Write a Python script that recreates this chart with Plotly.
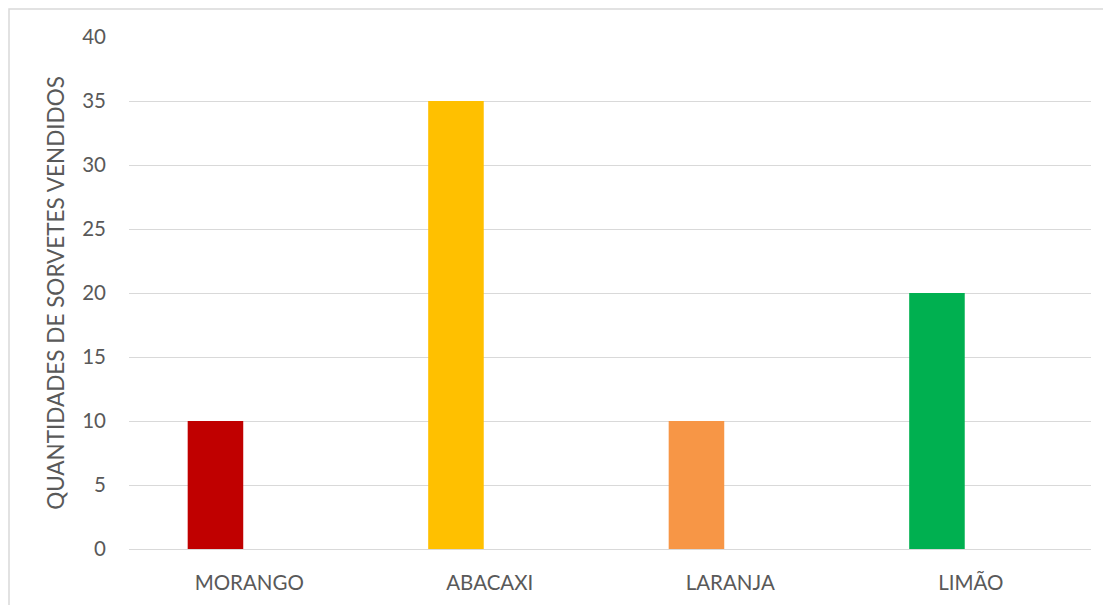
import plotly.graph_objects as go

categories = ["MORANGO", "ABACAXI", "LARANJA", "LIMÃO"]
values = [10, 35, 10, 20]
colors = ["#C00000", "#FFC000", "#F79646", "#00B050"]
y_title = "QUANTIDADES DE SORVETES VENDIDOS"
y_ticks = [0, 5, 10, 15, 20, 25, 30, 35, 40]

FONT = "Lato, 'Open Sans', sans-serif"
TXT = "#595959"

fig = go.Figure()
fig.add_trace(go.Bar(
    x=categories, y=values,
    marker=dict(color=colors, line=dict(width=0)),
    width=0.231, offset=-0.256,
    showlegend=False, hoverinfo="x+y",
))

fig.update_layout(
    width=1103, height=597,
    margin=dict(l=121, r=20, t=29, b=56),
    paper_bgcolor="white", plot_bgcolor="white",
    font=dict(family=FONT, color=TXT, size=20),
    xaxis=dict(
        type="category", range=[-0.5, 3.5],
        showgrid=False, showline=False, zeroline=False,
        tickfont=dict(size=20.5, color=TXT, family=FONT),
        ticks="", ticklabelstandoff=19,
    ),
    yaxis=dict(
        range=[0, 40], tickvals=y_ticks,
        showgrid=True, gridcolor="#D9D9D9", gridwidth=1.3,
        zeroline=True, zerolinecolor="#D9D9D9", zerolinewidth=1.3,
        showline=False, ticks="",
        tickfont=dict(size=20.5, color=TXT, family=FONT),
        ticklabelstandoff=22,
        title=dict(text=y_title, font=dict(size=22.5, color=TXT, family=FONT), standoff=11),
    ),
    shapes=[dict(
        type="rect", xref="paper", yref="paper",
        x0=(1 - 121) / 962, x1=1.2, y0=-0.3, y1=(541 - 1) / 512,
        line=dict(color="#D9D9D9", width=1.5), fillcolor="rgba(0,0,0,0)", layer="below",
    )],
)

fig.write_html("out.html")
